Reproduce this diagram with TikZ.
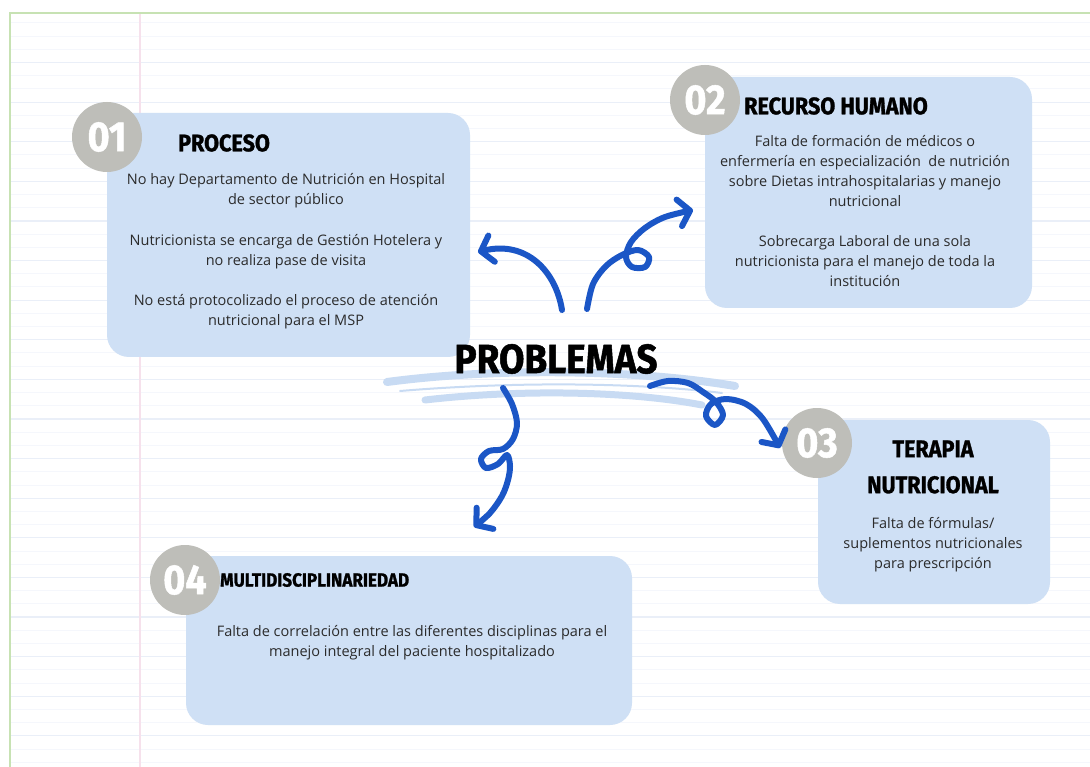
\documentclass[tikz,border=0pt]{standalone}
\usepackage{fontspec}
\setmainfont{Open Sans}
\newfontfamily\titlefont[FakeStretch=0.90,FakeBold=1.2]{Fira Sans}
\usetikzlibrary{arrows.meta}
\definecolor{boxblue}{HTML}{CFE0F5}
\definecolor{arrowblue}{HTML}{1B56C6}
\definecolor{circgrey}{HTML}{BEBEB9}
\definecolor{bgline}{HTML}{F5F7FC}
\definecolor{bglinestrong}{HTML}{EAEFF8}
\definecolor{greenborder}{HTML}{C7E2B3}
\definecolor{pinkline}{HTML}{F6E1EC}
\definecolor{bodytext}{HTML}{2B2B2B}
\definecolor{brush}{HTML}{C8DBF3}
\tikzset{
  boxnode/.style={fill=boxblue, rounded corners=22pt, inner sep=0pt},
  numcircle/.style={circle, fill=circgrey, minimum size=70pt, inner sep=0pt, text=white,
    font=\titlefont\bfseries\fontsize{42}{42}\selectfont},
  titletext/.style={inner sep=0pt, text=black},
  bodynode/.style={inner sep=0pt, align=center, text=bodytext,
    font=\fontsize{14.5}{20}\selectfont},
  curly/.style={draw=arrowblue, line width=6pt, line cap=round, line join=round,
    -{Straight Barb[length=11pt,width=27pt,round]}},
  brushstroke/.style={draw=brush, line cap=round},
}
\begin{document}
\begin{tikzpicture}[x=1pt,y=-1pt]
\useasboundingbox (0,0) rectangle (1090,767);
\fill[white] (0,0) rectangle (1090,767);
% notebook lines
\foreach \i in {0,...,56} {
  \draw[bgline, line width=1pt] (10,{23+13.2*\i}) -- (1090,{23+13.2*\i});
}
\foreach \i in {0,...,18} {
  \draw[bglinestrong, line width=1.3pt] (10,{62.6+39.6*\i}) -- (1090,{62.6+39.6*\i});
}
\draw[pinkline, line width=1.2pt] (140,13) -- (140,767);
\draw[greenborder, line width=1.5pt] (10,767) -- (10,13) -- (1090,13);

% boxes
\node[boxnode, minimum width=363pt, minimum height=244pt] (b1) at (288.5,235) {};
\node[boxnode, minimum width=327pt, minimum height=231pt] (b2) at (868.5,192.5) {};
\node[boxnode, minimum width=232pt, minimum height=184pt] (b3) at (934,512) {};
\node[boxnode, minimum width=446pt, minimum height=169pt] (b4) at (409,640.5) {};

% number circles
\node[numcircle] (c1) at (107,137) {01};
\node[numcircle] (c2) at (705,100) {02};
\node[numcircle] (c3) at (817,443) {03};
\node[numcircle] (c4) at (185,580) {04};

% titles
\node[titletext, font=\titlefont\bfseries\fontsize{24}{24}\selectfont] (t1) at (224,143) {PROCESO};
\node[titletext, anchor=west, font=\titlefont\bfseries\fontsize{24}{24}\selectfont] (t2) at (744,106) {RECURSO HUMANO};
\node[titletext, align=center, font=\titlefont\bfseries\fontsize{24}{36}\selectfont] (t3) at (933,467) {TERAPIA\\NUTRICIONAL};
\node[titletext, anchor=west, font=\titlefont\bfseries\fontsize{19}{19}\selectfont] (t4) at (220,580) {MULTIDISCIPLINARIEDAD};

% body texts
\node[bodynode, anchor=north] (x1) at (286,173) {No hay Departamento de Nutrición en Hospital\\de sector público\\[21pt]Nutricionista se encarga de Gestión Hotelera y\\no realiza pase de visita\\[20pt]No está protocolizado el proceso de atención\\nutricional para el MSP};
\node[bodynode, anchor=north] (x2) at (865,135) {Falta de formación de médicos o\\enfermería en especialización\ \ de nutrición\\sobre Dietas intrahospitalarias y manejo\\nutricional\\[20pt]Sobrecarga Laboral de una sola\\nutricionista para el manejo de toda la\\institución};
\node[bodynode, anchor=north] (x3) at (933,517) {Falta de fórmulas/\\suplementos nutricionales\\para prescripción};
\node[bodynode, anchor=north] (x4) at (412,625) {Falta de correlación entre las diferentes disciplinas para el\\manejo integral del paciente hospitalizado};

% brush under title
\draw[brushstroke, line width=8pt] (387,382) .. controls (500,367) and (640,370) .. (735,386);
\draw[brushstroke, line width=2pt] (400,391) .. controls (520,381) and (640,383) .. (722,393);
\draw[brushstroke, line width=7pt] (425,400) .. controls (520,389) and (630,391) .. (702,405);

% central title
\node[titletext, font=\titlefont\bfseries\fontsize{41}{41}\selectfont] (prob) at (556,359) {PROBLEMAS};

% curly connectors
\coordinate (s1) at (562,310);
\coordinate (e1) at (478,252);
\draw[curly] (s1) .. controls (556,272) and (527,240) .. (e1);

\coordinate (s2) at (587,309);
\coordinate (e2) at (693,210);
\draw[curly] plot[smooth, tension=0.55] coordinates {(s2) (593,284) (606,266) (622,255) (638,250) (649,257) (645,267) (632,267) (626,257) (631,242) (645,228) (665,217) (e2)};

\coordinate (s3) at (650,386);
\coordinate (e3) at (780,448);
\draw[curly] plot[smooth, tension=0.55] coordinates {(s3) (668,381) (688,383) (703,392) (716,402) (723,415) (715,425) (706,416) (711,404) (726,399) (746,404) (763,419) (e3)};

\coordinate (s4) at (503,388);
\coordinate (e4) at (474,527);
\draw[curly] plot[smooth, tension=0.55] coordinates {(s4) (512,404) (517,423) (513,439) (503,449) (489,451) (481,459) (486,468) (498,464) (507,455) (510,466) (508,480) (502,496) (490,513) (e4)};
\end{tikzpicture}
\end{document}
